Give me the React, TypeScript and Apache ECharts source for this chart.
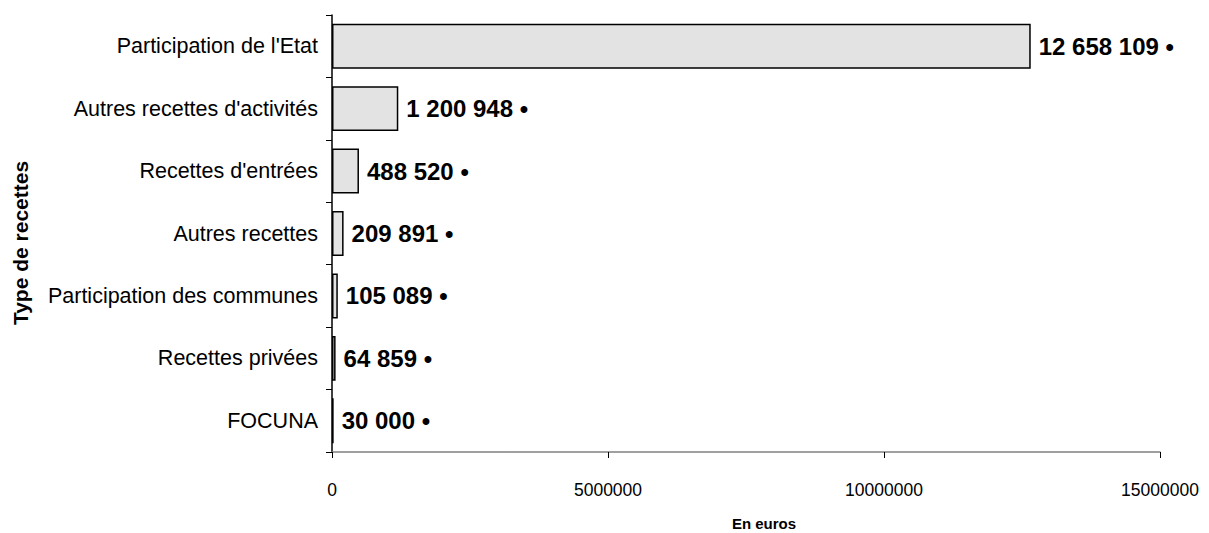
import React, { useEffect, useRef } from "react";
import * as echarts from "echarts";

const categories = [
  "Participation de l'Etat",
  "Autres recettes d'activités",
  "Recettes d'entrées",
  "Autres recettes",
  "Participation des communes",
  "Recettes privées",
  "FOCUNA",
];
const values = [12658109, 1200948, 488520, 209891, 105089, 64859, 30000];
const xTicks = { min: 0, max: 15000000, interval: 5000000 };
const yTitle = "Type de recettes";
const xTitle = "En euros";

const fmt = (v: number) =>
  String(Math.round(v)).replace(/\B(?=(\d{3})+(?!\d))/g, " ") + " •";

export default function App() {
  const ref = useRef<HTMLDivElement>(null);
  useEffect(() => {
    if (!ref.current) return;
    const chart = echarts.init(ref.current, undefined, { renderer: "svg" });
    const font = "'Liberation Sans', Arial, sans-serif";
    chart.setOption({
      animation: false,
      backgroundColor: "#ffffff",
      textStyle: { fontFamily: font },
      grid: { left: 332, right: 49, top: 15, bottom: 81, containLabel: false },
      graphic: [
        {
          type: "text",
          x: 764,
          y: 523,
          style: {
            text: xTitle,
            fontFamily: font,
            fontSize: 15,
            fontWeight: "bold",
            fill: "#000",
            align: "center",
            verticalAlign: "middle",
          },
        },
        {
          type: "text",
          x: 20,
          y: 243,
          rotation: Math.PI / 2,
          style: {
            text: yTitle,
            fontFamily: font,
            fontSize: 21,
            fontWeight: "bold",
            fill: "#000",
            align: "center",
            verticalAlign: "middle",
          },
        },
      ],
      xAxis: {
        type: "value",
        min: xTicks.min,
        max: xTicks.max,
        interval: xTicks.interval,
        axisLine: { show: true, lineStyle: { color: "#808080", width: 1.5 } },
        axisTick: { show: true, length: 6, lineStyle: { color: "#000", width: 1 } },
        axisLabel: {
          fontFamily: font,
          fontSize: 17.5,
          color: "#000",
          margin: 29,
          formatter: (v: number) => String(v),
        },
        splitLine: { show: false },
      },
      yAxis: {
        type: "category",
        data: categories,
        inverse: true,
        axisLine: { show: true, lineStyle: { color: "#000", width: 1.5 } },
        axisTick: { show: true, length: 6, lineStyle: { color: "#000", width: 1 } },
        axisLabel: { fontFamily: font, fontSize: 21.5, color: "#000", margin: 14 },
        splitLine: { show: false },
      },
      series: [
        {
          type: "bar",
          data: values,
          barCategoryGap: "28%",
          itemStyle: { color: "#e3e3e3", borderColor: "#000", borderWidth: 1.5 },
          label: {
            show: true,
            position: "right",
            distance: 8,
            formatter: (p: any) => fmt(p.value),
            fontFamily: font,
            fontSize: 24,
            fontWeight: "bold",
            color: "#000",
          },
        },
      ],
    });
    return () => chart.dispose();
  }, []);
  return (
    <div
      ref={ref}
      style={{ position: "fixed", left: 0, top: 0, width: 1209, height: 533 }}
    />
  );
}
